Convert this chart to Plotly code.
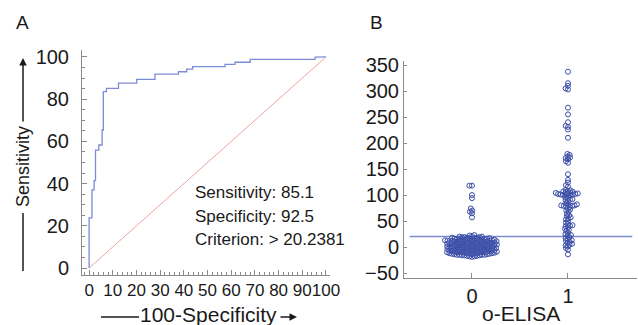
import math
import plotly.graph_objects as go

# ROC curve (100-Specificity, Sensitivity)
roc_fpr = [0, 0, 1.2, 1.2, 2.1, 2.1, 2.7, 2.7, 4.1, 4.1, 5.5, 5.5, 6.0, 6.0, 7.3, 7.3,
           12.4, 12.4, 20.1, 20.1, 27.8, 27.8, 37.7, 37.7, 41.2, 41.2, 43.7, 43.7,
           57.4, 57.4, 61.6, 61.6, 68.0, 68.0, 95.4, 95.4, 100]
roc_tpr = [0, 23.8, 23.8, 37.0, 37.0, 41.4, 41.4, 55.9, 55.9, 58.3, 58.3, 65.4, 65.4,
           83.6, 83.6, 85.1, 85.1, 87.6, 87.6, 89.4, 89.4, 91.9, 91.9, 93.0, 93.0,
           94.2, 94.2, 95.4, 95.4, 96.5, 96.5, 97.5, 97.5, 98.9, 98.9, 99.9, 100]
diag = [0, 100]

stats_lines = ["Sensitivity: 85.1", "Specificity: 92.5", "Criterion: > 20.2381"]
criterion = 20.2381

# o-ELISA = 0 group values
group0 = [118, 118, 100, 94, 74, 70, 68, 65, 57, 23, 22, 21,
          20, 20, 19, 19, 19, 18, 18, 18, 17, 17, 17, 16, 16, 16,
          15, 15, 15, 15, 14, 14, 14, 14, 13, 13, 13, 13, 12, 12, 12, 12, 12,
          11, 11, 11, 11, 10, 10, 10, 10, 9, 9, 9, 9, 8, 8, 8, 8,
          7, 7, 7, 7, 6, 6, 6, 6, 5, 5, 5, 5, 5, 4, 4, 4, 4, 3, 3, 3, 3,
          2, 2, 2, 2, 1, 1, 1, 1, 0, 0, 0, 0, -1, -1, -1, -1, -2, -2, -2, -2,
          -3, -3, -3, -3, -4, -4, -4, -4, -5, -5, -5, -5, -6, -6, -6, -6,
          -7, -7, -7, -7, -8, -8, -8, -8, -9, -9, -9, -9, -10, -10, -10, -10, -10,
          -11, -11, -11, -11, -12, -12, -12, -12, -13, -13, -13, -13,
          -14, -14, -14, -15, -15, -15, -15, -16, -16, -16, -17, -17, -18, -18, -19]

# o-ELISA = 1 group values
group1 = [337, 315, 310, 305, 303, 268, 255, 240, 233, 231, 226, 210,
          179, 177, 174, 172, 171, 169, 165, 162, 140, 129, 124, 119,
          116, 110, 109, 108, 107, 106, 105, 104, 104, 103, 103, 102, 102, 101, 101,
          100, 100, 99, 98, 95, 93, 92, 91, 90, 88, 84, 82, 81, 80, 80, 79, 79,
          78, 77, 74, 72, 70, 68, 64, 61, 59, 57, 55, 53, 50, 47, 44, 42, 41,
          40, 38, 35, 33, 31, 27, 25, 23, 22,
          19, 17, 15, 13, 12, 10, 8, 6, 5, 3, 1, -2, -5, -14]

categories = [0, 1]


def swarm(vals, center, px_per_x=96.0, px_per_y=0.52, d=2.55):
    order = sorted(range(len(vals)), key=lambda i: vals[i])
    placed = []
    xs = [0.0] * len(vals)
    for i in order:
        y = vals[i] * px_per_y
        neigh = [(px, py) for px, py in placed if abs(py - y) < d]
        cands = [0.0]
        for px, py in neigh:
            dx = math.sqrt(d * d - (py - y) ** 2)
            cands += [px + dx, px - dx]
        cands.sort(key=lambda c: (abs(c), c))
        chosen = 0.0
        for c in cands:
            if all((c - px) ** 2 + (py - y) ** 2 >= d * d - 1e-6 for px, py in neigh):
                chosen = c
                break
        placed.append((chosen, y))
        xs[i] = center + chosen / px_per_x
    return xs


W, H = 638, 325
FONT = "Liberation Sans, Arial, sans-serif"
AX = "#8a8a8a"
DOT = "#3b4ea8"

fig = go.Figure()

# Panel A
fig.add_trace(go.Scatter(x=diag, y=diag, mode="lines", line=dict(color="#eca4a4", width=1),
                         xaxis="x", yaxis="y", showlegend=False, hoverinfo="skip"))
fig.add_trace(go.Scatter(x=roc_fpr, y=roc_tpr, mode="lines", line=dict(color="#7d8bd6", width=1.3),
                         xaxis="x", yaxis="y", showlegend=False))

# Panel B
fig.add_trace(go.Scatter(x=[-0.65, 1.67], y=[criterion, criterion], mode="lines",
                         line=dict(color="#7d8bd0", width=1.5), xaxis="x2", yaxis="y2",
                         showlegend=False, hoverinfo="skip"))
for cat, vals in zip(categories, [group0, group1]):
    fig.add_trace(go.Scatter(x=swarm(vals, cat), y=vals, mode="markers",
                             marker=dict(symbol="circle-open", size=5, color=DOT,
                                         line=dict(width=1, color=DOT)),
                             xaxis="x2", yaxis="y2", showlegend=False))


def px(xp):
    return xp / W


def py(yp):
    return 1 - yp / H


axis_common = dict(showline=True, linecolor=AX, linewidth=1, showgrid=False, zeroline=False,
                   ticks="inside", tickcolor=AX, automargin=False, tickangle=0)
tf20 = dict(family=FONT, size=20, color="#1a1a1a")

fig.update_layout(
    width=W, height=H, margin=dict(l=0, r=0, t=0, b=0),
    paper_bgcolor="white", plot_bgcolor="white",
    font=dict(family=FONT, color="#1a1a1a"),
    xaxis=dict(domain=[px(82), px(330)], range=[-3, 101.7], anchor="y",
               tickvals=list(range(0, 101, 10)), ticklen=5,
               tickfont=dict(family=FONT, size=17, color="#1a1a1a"),
               minor=dict(dtick=2, ticks="inside", ticklen=3, tickcolor=AX, showgrid=False),
               **axis_common),
    yaxis=dict(domain=[py(275), py(50)], range=[-3.3, 103.3], anchor="x",
               tickvals=list(range(0, 101, 20)), ticklen=5, ticklabelstandoff=8, tickfont=tf20,
               minor=dict(dtick=5, ticks="inside", ticklen=3, tickcolor=AX, showgrid=False),
               **axis_common),
    xaxis2=dict(domain=[px(404), px(637)], range=[-0.708, 1.719], anchor="y2",
                tickvals=categories, ticklen=5, tickfont=tf20, **axis_common),
    yaxis2=dict(domain=[py(278), py(61)], range=[-59.6, 357.7], anchor="x2",
                tickvals=list(range(-50, 351, 50)), ticklen=3, tickfont=tf20, **axis_common),
)

ann = []
ann.append(dict(text="A", x=px(22), y=py(22), font=dict(size=19)))
ann.append(dict(text="B", x=px(376), y=py(22), font=dict(size=19)))
for i, t in enumerate(stats_lines):
    ann.append(dict(text=t, x=px(193), y=py(193 + 23 * i), xanchor="left", font=dict(size=17)))
ann.append(dict(text="Sensitivity", x=px(23), y=py(167), textangle=-90, font=dict(size=18)))
ann.append(dict(text="100-Specificity", x=px(208), y=py(314), font=dict(size=21)))
ann.append(dict(text="o-ELISA", x=px(521), y=py(313), font=dict(size=21)))
for a in ann:
    a.setdefault("xanchor", "center")
    a.update(xref="paper", yref="paper", yanchor="middle", showarrow=False)
    a["font"].update(family=FONT, color="#1a1a1a")

# arrows of the axis titles
ann.append(dict(x=px(23), y=py(58), ax=0, ay=65, xref="paper", yref="paper",
                axref="pixel", ayref="pixel", text="", showarrow=True, arrowhead=2,
                arrowsize=1, arrowwidth=1.5, arrowcolor="#1a1a1a"))
ann.append(dict(x=px(297), y=py(317), ax=-18, ay=0, xref="paper", yref="paper",
                axref="pixel", ayref="pixel", text="", showarrow=True, arrowhead=2,
                arrowsize=1, arrowwidth=1.5, arrowcolor="#1a1a1a"))
fig.update_layout(annotations=ann)

fig.add_shape(type="line", xref="paper", yref="paper", x0=px(23), x1=px(23), y0=py(213), y1=py(271),
              line=dict(color="#1a1a1a", width=1.5))
fig.add_shape(type="line", xref="paper", yref="paper", x0=px(101), x1=px(139), y0=py(317), y1=py(317),
              line=dict(color="#1a1a1a", width=1.5))

fig.write_html("out.html", config={"displayModeBar": False},
               post_script="document.body.style.margin='0';document.body.style.overflow='hidden';")
